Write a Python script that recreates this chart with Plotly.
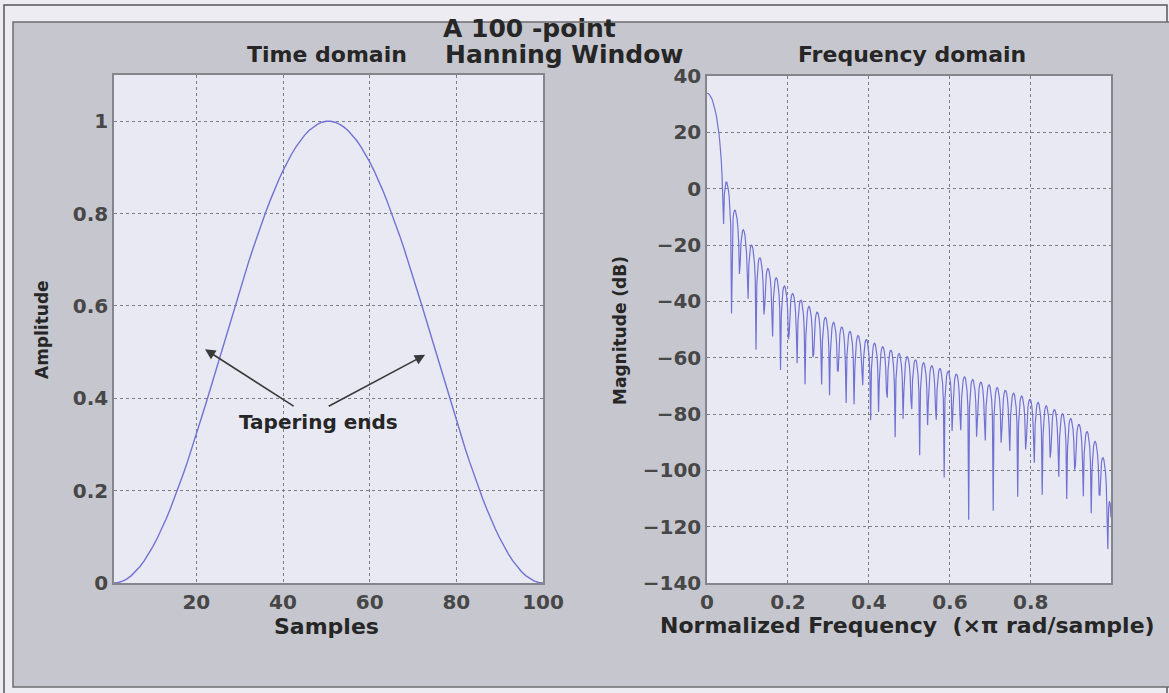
import numpy as np
import plotly.graph_objects as go

# ---- Data: 100-point Hann window (time domain samples) ----
sample_index = list(range(1, 101))
half_window = [
    0.0000000000, 0.0010066618, 0.0040225936, 0.0090356514, 0.0160256493,
    0.0249644411, 0.0358160335, 0.0485367309, 0.0630753115, 0.0793732336,
    0.0973648712, 0.1169777784, 0.1381329809, 0.1607452942, 0.1847236665,
    0.2099715452, 0.2363872662, 0.2638644626, 0.2922924935, 0.3215568892,
    0.3515398123, 0.3821205322, 0.4131759112, 0.4445809000, 0.4762090421,
    0.5079329819, 0.5396249784, 0.5711574191, 0.6024033340, 0.6332369068,
    0.6635339817, 0.6931725628, 0.7220333063, 0.7500000000, 0.7769600319,
    0.8028048436, 0.8274303670, 0.8507374439, 0.8726322248, 0.8930265474,
    0.9118382907, 0.9289917066, 0.9444177243, 0.9580542287, 0.9698463104,
    0.9797464868, 0.9877148934, 0.9937194443, 0.9977359613, 0.9997482712,
]
window_values = half_window + half_window[::-1]

# Frequency response of the window samples (512 points over [0, pi))
n_freq = 512
spectrum = np.fft.fft(np.array(window_values), 2 * n_freq)[:n_freq]
norm_freq = np.arange(n_freq) / n_freq
magnitude_db = 20 * np.log10(np.maximum(np.abs(spectrum), 1e-12))

# Tick labels
time_xticks = [20, 40, 60, 80, 100]
time_yticks = [0, 0.2, 0.4, 0.6, 0.8, 1]
time_yticklabels = ["0", "0.2", "0.4", "0.6", "0.8", "1"]
freq_xticks = [0, 0.2, 0.4, 0.6, 0.8]
freq_xticklabels = ["0", "0.2", "0.4", "0.6", "0.8"]
freq_yticks = [-140, -120, -100, -80, -60, -40, -20, 0, 20, 40]

W, H = 1169, 693
LINE = "#7272d2"
TXT = "#262626"
TICK = "#474747"
FONT = "DejaVu Sans"

def px(x):
    return x / W

def py(y):
    return 1 - y / H

fig = go.Figure()
fig.add_trace(go.Scatter(x=sample_index, y=window_values, mode="lines",
                         line=dict(color=LINE, width=1.4), xaxis="x", yaxis="y",
                         showlegend=False, hoverinfo="skip"))
fig.add_trace(go.Scatter(x=norm_freq, y=magnitude_db, mode="lines",
                         line=dict(color=LINE, width=1.2), xaxis="x2", yaxis="y2",
                         showlegend=False, hoverinfo="skip"))

axis_common = dict(showgrid=True, gridcolor="#7d7d85", gridwidth=1, griddash="3px,3px",
                   showline=True, linecolor="#85858c", linewidth=1.5, mirror=True,
                   ticks="", zeroline=False, automargin=False,
                   tickfont=dict(family=FONT, size=20, color=TICK, weight="bold"))

L_X = [px(114), px(543)]
R_X = [px(707), px(1111)]
Y_D = [py(583), py(75)]
Y_D2 = [py(583), py(76)]

fig.update_layout(
    template="none",
    width=W, height=H, margin=dict(l=0, r=0, t=0, b=0, pad=0), autosize=False,
    paper_bgcolor="#ececf2", plot_bgcolor="rgba(0,0,0,0)",
    xaxis=dict(domain=L_X, range=[1, 100], tickvals=time_xticks, anchor="y", **axis_common),
    yaxis=dict(domain=Y_D, range=[0, 1.1], tickvals=time_yticks, ticktext=time_yticklabels,
               anchor="x", **axis_common),
    xaxis2=dict(domain=R_X, range=[0, (n_freq - 1) / n_freq], tickvals=freq_xticks,
                ticktext=freq_xticklabels, anchor="y2", **axis_common),
    yaxis2=dict(domain=Y_D2, range=[-140, 40], tickvals=freq_yticks, anchor="x2", **axis_common),
    shapes=[
        dict(type="rect", xref="paper", yref="paper", x0=px(4), x1=px(1167), y0=py(700), y1=py(5),
             line=dict(color="#55555c", width=1.5), fillcolor="#ececf2", layer="below"),
        dict(type="rect", xref="paper", yref="paper", x0=px(13), x1=px(1175), y0=py(687), y1=py(22),
             line=dict(color="#6c6c72", width=1.5), fillcolor="#c6c6ce", layer="below"),
        dict(type="rect", xref="paper", yref="paper", x0=L_X[0], x1=L_X[1], y0=Y_D[0], y1=Y_D[1],
             line=dict(width=0), fillcolor="#e9e9f4", layer="below"),
        dict(type="rect", xref="paper", yref="paper", x0=R_X[0], x1=R_X[1], y0=Y_D2[0], y1=Y_D2[1],
             line=dict(width=0), fillcolor="#e9e9f4", layer="below"),
    ],
)

def label(text, x, y, size, color=TXT, angle=0, xanchor="center"):
    fig.add_annotation(text=text, x=px(x), y=py(y), xref="paper", yref="paper",
                       showarrow=False, textangle=angle, xanchor=xanchor, yanchor="middle",
                       font=dict(family=FONT, size=size, color=color, weight="bold"))

label("A 100 -point", 441, 28, 25, xanchor="left")
label("Hanning Window", 443, 55, 25, xanchor="left")
label("Time domain", 327, 55, 22)
label("Frequency domain", 912, 55, 22)
label("Samples", 326, 626, 22)
label("Normalized Frequency  (×π rad/sample)", 907, 625, 22)
label("Amplitude", 42, 330, 17, angle=-90)
label("Magnitude (dB)", 620, 330, 17, angle=-90)

# Arrows and annotation text in the time-domain plot
for head, tail in [((22.0, 0.506), (42.8, 0.381)), ((72.8, 0.494), (50.2, 0.381))]:
    fig.add_annotation(x=head[0], y=head[1], ax=tail[0], ay=tail[1], xref="x", yref="y",
                       axref="x", ayref="y", text="", showarrow=True, arrowhead=2,
                       arrowsize=1.3, arrowwidth=1.6, arrowcolor="#3a3a3a")
fig.add_annotation(x=48.1, y=0.348, xref="x", yref="y", text="Tapering ends", showarrow=False,
                   font=dict(family=FONT, size=20, color=TXT, weight="bold"))

fig.write_html("out.html")
